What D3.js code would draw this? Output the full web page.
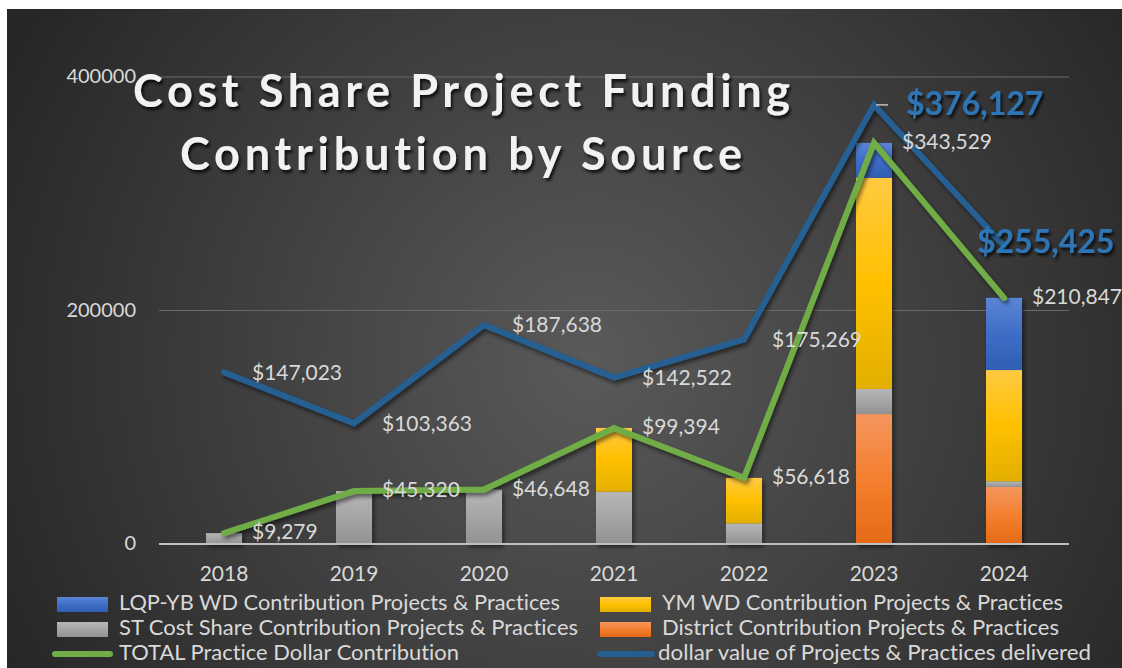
<html>
<head>
<meta charset="utf-8">
<title>Cost Share Project Funding Contribution by Source</title>
<script src="https://d3js.org/d3.v7.min.js"></script>
<style>
	body { margin: 0; background: #fff; }
	svg text { font-family: Lato, "Open Sans", sans-serif; font-variant-ligatures: none; }
</style>
</head>
<body>
<svg id="chart" width="1122" height="668"></svg>
<script>
// chart values
const years = ["2018", "2019", "2020", "2021", "2022", "2023", "2024"];
const districtContribution = [0, 0, 0, 0, 0, 111300, 48800];
const stCostShare = [9279, 45320, 46648, 44800, 17700, 21500, 4900];
const ymWdContribution = [0, 0, 0, 54594, 38918, 180900, 95300];
const lqpYbContribution = [0, 0, 0, 0, 0, 29829, 61847];
const totalContribution = [9279, 45320, 46648, 99394, 56618, 343529, 210847];
const deliveredValue = [147023, 103363, 187638, 142522, 175269, 376127, 255425];
const yTicks = [0, 200000, 400000];
const titleLines = ["Cost Share Project Funding", "Contribution by Source"];

const svg = d3.select("#chart");
const defs = svg.append("defs");

// background
const bg = defs.append("radialGradient").attr("id", "bg")
	.attr("gradientUnits", "userSpaceOnUse")
	.attr("cx", 590).attr("cy", 360).attr("r", 660);
bg.append("stop").attr("offset", "0%").attr("stop-color", "#5a5a5a");
bg.append("stop").attr("offset", "100%").attr("stop-color", "#262626");
svg.append("rect").attr("x", 7).attr("y", 9).attr("width", 1115).attr("height", 659).attr("fill", "url(#bg)");

// shadows
const shadow = defs.append("filter").attr("id", "shadow").attr("x", "-20%").attr("y", "-20%").attr("width", "140%").attr("height", "140%");
shadow.append("feDropShadow").attr("dx", 2).attr("dy", 3).attr("stdDeviation", 2)
	.attr("flood-color", "#000").attr("flood-opacity", 0.55);
const tshadow = defs.append("filter").attr("id", "tshadow").attr("x", "-10%").attr("y", "-20%").attr("width", "120%").attr("height", "150%");
tshadow.append("feDropShadow").attr("dx", 2).attr("dy", 3).attr("stdDeviation", 1.5)
	.attr("flood-color", "#000").attr("flood-opacity", 0.75);

// bar gradients
const series = [
	{ key: "district", label: "District Contribution Projects & Practices", stops: ["#f5965e", "#f47f2f", "#e46a17"] },
	{ key: "st", label: "ST Cost Share Contribution Projects & Practices", stops: ["#b6b6b6", "#a5a5a5", "#929292"] },
	{ key: "ym", label: "YM WD Contribution Projects & Practices", stops: ["#ffca42", "#ffc000", "#e2af00"] },
	{ key: "lqp", label: "LQP-YB WD Contribution Projects & Practices", stops: ["#5b86d6", "#3f6dc6", "#2f5fb3"] }
];
series.forEach(s => {
	const g = defs.append("linearGradient").attr("id", "g-" + s.key)
		.attr("x1", 0).attr("y1", 0).attr("x2", 0).attr("y2", 1);
	g.append("stop").attr("offset", "0%").attr("stop-color", s.stops[0]);
	g.append("stop").attr("offset", "50%").attr("stop-color", s.stops[1]);
	g.append("stop").attr("offset", "100%").attr("stop-color", s.stops[2]);
});

const table = years.map((y, i) => ({
	year: y,
	district: districtContribution[i],
	st: stCostShare[i],
	ym: ymWdContribution[i],
	lqp: lqpYbContribution[i]
}));

const x = d3.scaleBand().domain(years).range([159, 1069]).paddingInner(0.723).paddingOuter(0.3615);
const y = d3.scaleLinear().domain([0, 400000]).range([544, 77]);
const cx = d => x(d) + x.bandwidth() / 2;

// gridlines
svg.append("g").selectAll("line").data(yTicks.filter(t => t > 0)).enter().append("line")
	.attr("x1", 159).attr("x2", 1069)
	.attr("y1", d => y(d)).attr("y2", d => y(d))
	.attr("stroke", "#6a6a6a").attr("stroke-width", 1);

// y axis labels
svg.append("g").selectAll("text").data(yTicks).enter().append("text")
	.attr("x", 136).attr("y", d => y(d) + 1)
	.attr("text-anchor", "end").attr("dominant-baseline", "middle")
	.attr("fill", "#d9d9d9").style("font-size", "20px")
	.text(d => d);

// stacked bars
const stacked = d3.stack().keys(series.map(s => s.key))(table);
svg.append("g").attr("filter", "url(#shadow)")
	.selectAll("g").data(stacked).enter().append("g")
	.attr("fill", d => "url(#g-" + d.key + ")")
	.selectAll("rect").data(d => d).enter().append("rect")
	.attr("x", d => x(d.data.year))
	.attr("width", x.bandwidth())
	.attr("y", d => y(d[1]))
	.attr("height", d => y(d[0]) - y(d[1]));

// baseline
svg.append("line").attr("x1", 159).attr("x2", 1069).attr("y1", y(0)).attr("y2", y(0))
	.attr("stroke", "#bfbfbf").attr("stroke-width", 2);

// x axis labels
svg.append("g").selectAll("text").data(years).enter().append("text")
	.attr("x", d => cx(d)).attr("y", 576)
	.attr("text-anchor", "middle").attr("dominant-baseline", "middle")
	.attr("fill", "#d9d9d9").style("font-size", "21px")
	.text(d => d);

// lines
const line = d3.line().x((d, i) => cx(years[i])).y(d => y(d));
svg.append("path").datum(deliveredValue)
	.attr("d", line).attr("fill", "none")
	.attr("stroke", "#255e91").attr("stroke-width", 6)
	.attr("stroke-linejoin", "miter").attr("stroke-linecap", "round")
	.attr("filter", "url(#shadow)");
svg.append("path").datum(totalContribution)
	.attr("d", line).attr("fill", "none")
	.attr("stroke", "#70ad47").attr("stroke-width", 6)
	.attr("stroke-linejoin", "miter").attr("stroke-linecap", "round")
	.attr("filter", "url(#shadow)");

const money = d3.format("$,");

// total labels
svg.append("g").selectAll("text").data(totalContribution).enter().append("text")
	.attr("x", (d, i) => cx(years[i]) + 28)
	.attr("y", d => y(d) + 1)
	.attr("dominant-baseline", "middle")
	.attr("fill", "#d9d9d9").style("font-size", "21px")
	.text(d => money(d));

// delivered labels (last two are highlighted)
svg.append("g").selectAll("text").data(deliveredValue.slice(0, 5)).enter().append("text")
	.attr("x", (d, i) => cx(years[i]) + 28)
	.attr("y", d => y(d) + 2)
	.attr("dominant-baseline", "middle")
	.attr("fill", "#d9d9d9").style("font-size", "21px")
	.text(d => money(d));

const big = [
	{ i: 5, dx: 32, dy: 2 },
	{ i: 6, dx: -27, dy: -1 }
];
svg.append("g").attr("filter", "url(#tshadow)")
	.selectAll("text").data(big).enter().append("text")
	.attr("x", d => cx(years[d.i]) + d.dx)
	.attr("y", d => y(deliveredValue[d.i]) + d.dy)
	.attr("dominant-baseline", "middle")
	.attr("fill", "#2e75b6").style("font-size", "32px").style("font-weight", "bold")
	.text(d => money(deliveredValue[d.i]));

// small leader dash at 2023 peak
svg.append("line")
	.attr("x1", cx(years[5]) + 2).attr("x2", cx(years[5]) + 14)
	.attr("y1", y(deliveredValue[5])).attr("y2", y(deliveredValue[5]))
	.attr("stroke", "#bfbfbf").attr("stroke-width", 1.5);

// title
svg.append("g").attr("filter", "url(#tshadow)")
	.selectAll("text").data(titleLines).enter().append("text")
	.attr("x", (d, i) => [133, 180][i])
	.attr("y", (d, i) => [107, 170][i])
	.attr("textLength", (d, i) => [657, 562][i])
	.attr("lengthAdjust", "spacing")
	.attr("fill", "#f2f2f2")
	.style("font-size", "45px").style("font-weight", "bold")
	.text(d => d);

// legend
const legendItems = [
	{ label: series[3].label, fill: "url(#g-lqp)", type: "rect", col: 0, row: 0, w: 441 },
	{ label: series[2].label, fill: "url(#g-ym)", type: "rect", col: 1, row: 0, w: 401 },
	{ label: series[1].label, fill: "url(#g-st)", type: "rect", col: 0, row: 1, w: 459 },
	{ label: series[0].label, fill: "url(#g-district)", type: "rect", col: 1, row: 1, w: 397 },
	{ label: "TOTAL Practice Dollar Contribution", fill: "#70ad47", type: "line", col: 0, row: 2, w: 340 },
	{ label: "dollar value of Projects & Practices delivered", fill: "#255e91", type: "line", col: 1, row: 2, w: 433 }
];
const colX = [57, 600];
const rowY = [604, 629, 654];
const leg = svg.append("g").selectAll("g").data(legendItems).enter().append("g")
	.attr("transform", d => "translate(" + colX[d.col] + "," + rowY[d.row] + ")");
leg.filter(d => d.type === "rect").append("rect")
	.attr("x", 0).attr("y", -7).attr("width", 51).attr("height", 15)
	.attr("fill", d => d.fill);
leg.filter(d => d.type === "line").append("line")
	.attr("x1", d => d.col ? 0 : -2).attr("x2", d => d.col ? 52 : 53).attr("y1", 0).attr("y2", 0)
	.attr("stroke", d => d.fill).attr("stroke-width", 6).attr("stroke-linecap", "round");
leg.append("text")
	.attr("x", d => d.type === "line" && d.col ? 58 : 62)
	.attr("y", 1)
	.attr("dominant-baseline", "middle")
	.attr("textLength", d => d.w)
	.attr("lengthAdjust", "spacingAndGlyphs")
	.attr("fill", "#d9d9d9").style("font-size", "21px")
	.text(d => d.label);
</script>
</body>
</html>
